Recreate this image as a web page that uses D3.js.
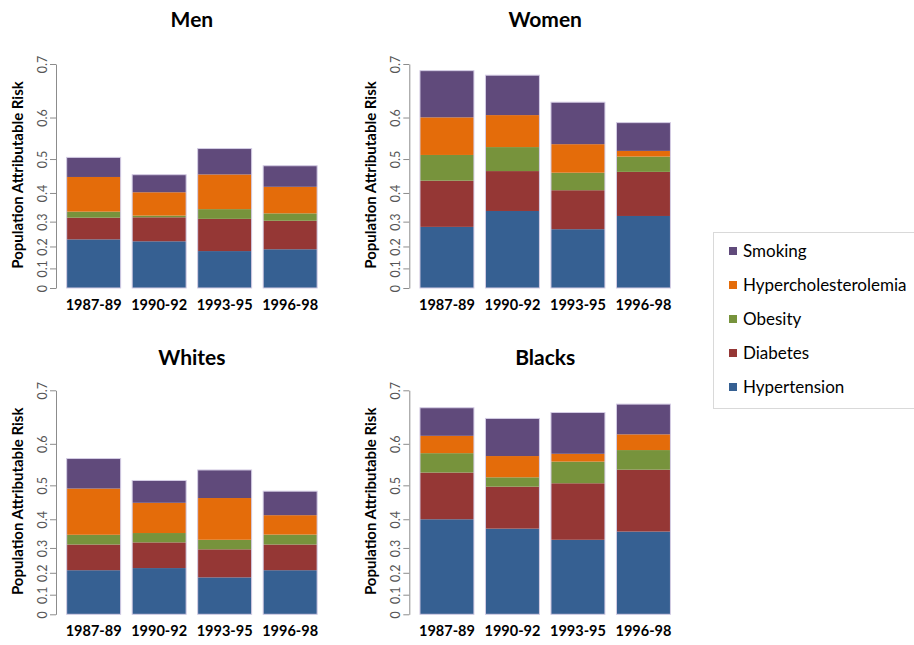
<!DOCTYPE html>
<html>
<head>
<meta charset="utf-8">
<script src="https://cdn.jsdelivr.net/npm/d3@7/dist/d3.min.js"></script>
<style>
  html, body { margin: 0; padding: 0; background: #ffffff; }
  svg { display: block; font-family: Lato, "Open Sans", "DejaVu Sans", sans-serif; }
</style>
</head>
<body>
<svg id="chart" width="914" height="645"></svg>
<script>
// Study periods on the x axis
const periods = ["1987-89", "1990-92", "1993-95", "1996-98"];

// Risk factors, stacked bottom to top
const factors = ["Hypertension", "Diabetes", "Obesity", "Hypercholesterolemia", "Smoking"];
const factorColors = ["#366092", "#953735", "#77933C", "#E46C0A", "#604A7B"];

// Population attributable risk of each factor, one row per factor (same order as `factors`),
// one value per period
const menPAR = [
  [0.230, 0.222, 0.180, 0.188],
  [0.110, 0.121, 0.159, 0.142],
  [0.032, 0.009, 0.051, 0.039],
  [0.170, 0.118, 0.170, 0.133],
  [0.100, 0.090, 0.130, 0.107]
];
const womenPAR = [
  [0.280, 0.339, 0.271, 0.321],
  [0.220, 0.193, 0.189, 0.211],
  [0.129, 0.121, 0.090, 0.079],
  [0.183, 0.158, 0.142, 0.030],
  [0.222, 0.193, 0.202, 0.141]
];
const whitesPAR = [
  [0.211, 0.220, 0.180, 0.211],
  [0.129, 0.129, 0.140, 0.129],
  [0.051, 0.049, 0.050, 0.052],
  [0.220, 0.150, 0.201, 0.099],
  [0.149, 0.113, 0.140, 0.121]
];
const blacksPAR = [
  [0.400, 0.369, 0.330, 0.359],
  [0.222, 0.202, 0.262, 0.283],
  [0.099, 0.049, 0.110, 0.100],
  [0.089, 0.108, 0.041, 0.081],
  [0.140, 0.183, 0.199, 0.150]
];

// Axis tick labels (combined PAR)
const tickLabels = [0, 0.1, 0.2, 0.3, 0.4, 0.5, 0.6, 0.7];

const panels = [
  { title: "Men",    data: menPAR,    axisX: 56,    top: 64,    bottom: 288,   titleY: 27 },
  { title: "Women",  data: womenPAR,  axisX: 409.3, top: 64,    bottom: 288,   titleY: 27 },
  { title: "Whites", data: whitesPAR, axisX: 56,    top: 390.3, bottom: 614.3, titleY: 365 },
  { title: "Blacks", data: blacksPAR, axisX: 409.3, top: 390.3, bottom: 614.3, titleY: 365 }
];

const svg = d3.select("#chart");

panels.forEach(p => {
  const g = svg.append("g");

  // Combined PAR = 1 - prod(1 - PAR_i); plotted on a log scale of (1 - PAR)
  // so that each factor's share stacks additively.
  const y = d3.scaleLog().domain([1, 1 - 0.7]).range([p.bottom, p.top]);

  const x = d3.scaleBand()
    .domain(periods)
    .range([p.axisX + 4.9, p.axisX + 266.9])
    .paddingInner(0.176)
    .paddingOuter(0.088);

  // Build stacked segments as surviving fractions
  const segments = [];
  periods.forEach((period, j) => {
    let surv = 1;
    factors.forEach((f, i) => {
      const next = surv * (1 - p.data[i][j]);
      segments.push({ period, factor: f, i, s0: surv, s1: next });
      surv = next;
    });
  });

  g.selectAll("rect.seg")
    .data(segments)
    .join("rect")
    .attr("class", "seg")
    .attr("x", d => x(d.period))
    .attr("width", x.bandwidth())
    .attr("y", d => y(d.s1))
    .attr("height", d => y(d.s0) - y(d.s1))
    .attr("fill", d => factorColors[d.i]);

  // Light outline around each whole bar
  g.selectAll("rect.outline")
    .data(periods.map((period, j) => ({
      period,
      s: factors.reduce((acc, f, i) => acc * (1 - p.data[i][j]), 1)
    })))
    .join("rect")
    .attr("class", "outline")
    .attr("x", d => x(d.period))
    .attr("width", x.bandwidth())
    .attr("y", d => y(d.s))
    .attr("height", d => y(1) - y(d.s))
    .attr("fill", "none")
    .attr("stroke", "#d4cce4")
    .attr("stroke-width", 1);

  // Y axis
  const axis = d3.axisLeft(y)
    .tickValues(tickLabels.map(v => 1 - v))
    .tickFormat(d => {
      const v = Math.round((1 - d) * 10) / 10;
      return v === 0 ? "0" : v.toFixed(1);
    })
    .tickSize(6)
    .tickSizeOuter(0);

  const ax = g.append("g")
    .attr("transform", `translate(${p.axisX},0)`)
    .call(axis);
  ax.select(".domain").attr("stroke", "#8c8c8c");
  ax.selectAll(".tick line").attr("stroke", "#8c8c8c");
  ax.selectAll(".tick text")
    .attr("transform", "rotate(-90)")
    .attr("x", 0)
    .attr("y", -9)
    .attr("dy", 0)
    .attr("text-anchor", "middle")
    .attr("fill", "#555555")
    .style("font-size", "12.5px")
    .style("font-family", "Lato, 'Open Sans', sans-serif");

  // Y axis title
  g.append("text")
    .attr("transform", `translate(${p.axisX - 33},${(p.top + p.bottom) / 2 - 1}) rotate(-90)`)
    .attr("text-anchor", "middle")
    .attr("font-weight", "bold")
    .attr("font-size", "15px")
    .attr("fill", "#000")
    .text("Population Attributable Risk");

  // X category labels
  g.selectAll("text.xl")
    .data(periods)
    .join("text")
    .attr("class", "xl")
    .attr("x", d => x(d) + x.bandwidth() / 2)
    .attr("y", p.bottom + 22)
    .attr("text-anchor", "middle")
    .attr("font-weight", "bold")
    .attr("font-size", "14.5px")
    .attr("fill", "#000")
    .text(d => d);

  // Panel title
  g.append("text")
    .attr("x", (x.range()[0] + x.range()[1]) / 2)
    .attr("y", p.titleY)
    .attr("text-anchor", "middle")
    .attr("font-weight", "bold")
    .attr("font-size", "21px")
    .attr("fill", "#000")
    .text(p.title);
});

// Legend (top entry is the top of the stack)
const legend = svg.append("g");
legend.append("rect")
  .attr("x", 713.5).attr("y", 232.5)
  .attr("width", 215).attr("height", 176)
  .attr("fill", "#fff")
  .attr("stroke", "#d9d9d9");

const legendItems = factors.map((f, i) => ({ f, i })).reverse();
const ly = d3.scalePoint().domain(legendItems.map(d => d.f)).range([251, 387]);

legendItems.forEach(d => {
  legend.append("rect")
    .attr("x", 729).attr("y", ly(d.f) - 4)
    .attr("width", 8).attr("height", 8)
    .attr("fill", factorColors[d.i]);
  legend.append("text")
    .attr("x", 743).attr("y", ly(d.f))
    .attr("dy", "0.35em")
    .attr("font-size", "17px")
    .attr("fill", "#000")
    .text(d.f);
});
</script>
</body>
</html>
